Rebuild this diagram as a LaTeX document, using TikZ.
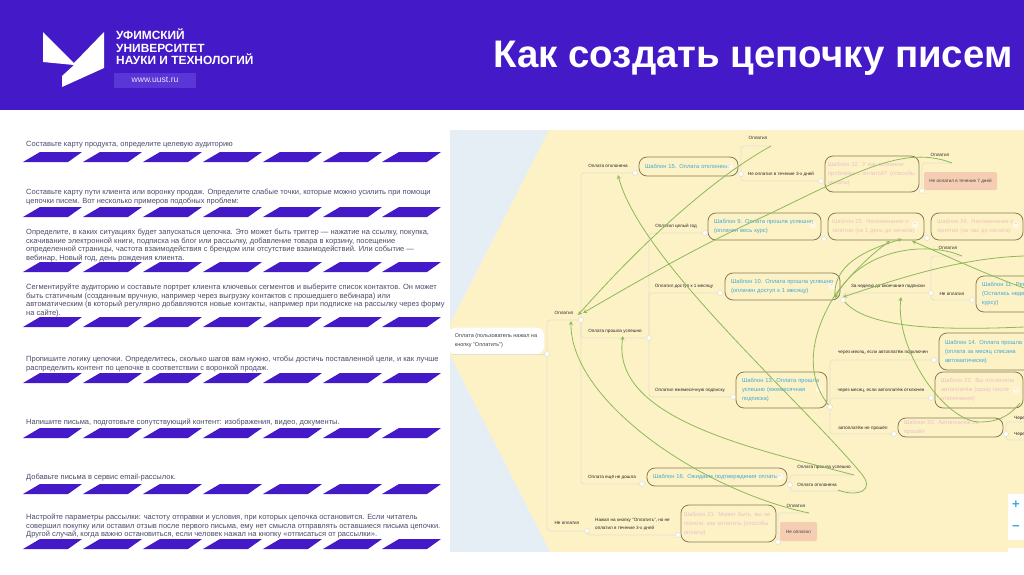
\documentclass[tikz,border=0pt]{standalone}
\usepackage{fontspec}
\setmainfont{Liberation Sans}
\usetikzlibrary{arrows, positioning}
\definecolor{headviolet}{HTML}{4319C8}
\definecolor{urlviolet}{HTML}{5A36D6}
\definecolor{paneyellow}{HTML}{FDF1C6}
\definecolor{paneblue}{HTML}{E6EEF5}
\definecolor{bodygrey}{HTML}{4A4A68}
\definecolor{linktan}{HTML}{E4E0CC}
\definecolor{boxolive}{HTML}{857A52}
\definecolor{tmplblue}{HTML}{3FAAD6}
\definecolor{tmplpink}{HTML}{EDBFCB}
\definecolor{tmplrose}{HTML}{ECC5B8}
\definecolor{leafsalmon}{HTML}{F5CDB2}
\definecolor{flowgreen}{HTML}{8CB958}
\tikzstyle{bodytext} = [anchor=north west, inner sep=0pt, align=left, text=bodygrey, font=\fontsize{7.5}{8.45}\selectfont]
\tikzstyle{stripe} = [fill=headviolet]
\tikzstyle{tmpl} = [rectangle, rounded corners=8pt, draw=boxolive, line width=0.8pt, inner xsep=6pt, inner ysep=0pt, align=left, font=\fontsize{5.8}{9}\selectfont]
\tikzstyle{tmplb} = [tmpl, text=tmplblue]
\tikzstyle{tmplp} = [tmpl, text=tmplpink]
\tikzstyle{tmplr} = [tmpl, text=tmplrose]
\tikzstyle{leaf} = [rectangle, rounded corners=2pt, fill=leafsalmon, text=black!75, inner sep=0pt, font=\fontsize{4.6}{6}\selectfont]
\tikzstyle{lbl} = [inner sep=0pt, text=black!85, align=left, font=\fontsize{4.6}{8}\selectfont]
\tikzstyle{knob} = [circle, draw=linktan, fill=white, line width=0.6pt, minimum size=5pt, inner sep=0pt]
\tikzstyle{fold} = [circle, fill=white, fill opacity=0.55, text opacity=1, text=black!45, minimum size=7pt, inner sep=0pt, font=\fontsize{5}{5}\selectfont]
\tikzstyle{link} = [draw=linktan, line width=0.7pt, rounded corners=3pt]
\tikzstyle{flow} = [draw=flowgreen, line width=0.8pt]
\tikzstyle{arrow} = [flow, ->, >=stealth]
\begin{document}
\begin{tikzpicture}[x=1pt, y=-1pt]
\useasboundingbox (0,0) rectangle (1024,574);

% Header
\fill [headviolet] (0,0) rectangle (1024,110);
\fill [white] (43,32) -- (74,63) -- (104,32) -- (104,68) -- (62,87) -- (62,76) -- (74,65) -- (43,62) -- cycle;
\node (uni) [anchor=north west, inner sep=0pt, align=left, text=white, font=\fontsize{11.9}{12.5}\selectfont\bfseries] at (116,29) {УФИМСКИЙ\\УНИВЕРСИТЕТ\\НАУКИ И ТЕХНОЛОГИЙ};
\node (url) [fill=urlviolet, text=white!85!urlviolet, minimum width=82pt, minimum height=15pt, inner sep=0pt, font=\fontsize{8.6}{10}\selectfont] at (155,80) {www.uust.ru};
\node (title) [text=white, inner sep=0pt, font=\fontsize{38.4}{42}\selectfont\bfseries] at (753,58) {Как создать цепочку писем};

% Steps
\node (text1) [bodytext] at (26,141) {Составьте карту продукта, определите целевую аудиторию};
\node (text2) [bodytext] at (26,189) {Составьте карту пути клиента или воронку продаж. Определите слабые точки, которые можно усилить при помощи\\цепочки писем. Вот несколько примеров подобных проблем:};
\node (text3) [bodytext] at (26,229) {Определите, в каких ситуациях будет запускаться цепочка. Это может быть триггер — нажатие на ссылку, покупка,\\скачивание электронной книги, подписка на блог или рассылку, добавление товара в корзину, посещение\\определенной страницы, частота взаимодействия с брендом или отсутствие взаимодействий. Или событие —\\вебинар, Новый год, день рождения клиента.};
\node (text4) [bodytext] at (26,284) {Сегментируйте аудиторию и составьте портрет клиента ключевых сегментов и выберите список контактов. Он может\\быть статичным (созданным вручную, например через выгрузку контактов с прошедшего вебинара) или\\автоматическим (в который регулярно добавляются новые контакты, например при подписке на рассылку через форму\\на сайте).};
\node (text5) [bodytext] at (26,356) {Пропишите логику цепочки. Определитесь, сколько шагов вам нужно, чтобы достичь поставленной цели, и как лучше\\распределить контент по цепочке в соответствии с воронкой продаж.};
\node (text6) [bodytext] at (26,419) {Напишите письма, подготовьте сопутствующий контент: изображения, видео, документы.};
\node (text7) [bodytext] at (26,474) {Добавьте письма в сервис email-рассылок.};
\node (text8) [bodytext] at (26,514) {Настройте параметры рассылки: частоту отправки и условия, при которых цепочка остановится. Если читатель\\совершил покупку или оставил отзыв после первого письма, ему нет смысла отправлять оставшиеся письма цепочки.\\Другой случай, когда важно остановиться, если человек нажал на кнопку «отписаться от рассылки».};
\foreach \y in {152,207,262,317,373,428,484,539} {
  \foreach \x in {23,83,143,203,263,323,382} {
    \fill [stripe] (\x,\y+10) -- (\x+17,\y) -- (\x+59,\y) -- (\x+45,\y+10) -- cycle;
  }
}

% Panel
\fill [paneyellow] (450,130) rectangle (1024,552);
\fill [paneblue] (450,130) -- (549,130) -- (450,324) -- cycle;
\fill [paneblue] (450,355) -- (550,552) -- (450,552) -- cycle;

% Root
\node (root) [fill=white, rounded corners=8pt, minimum width=96pt, minimum height=27pt, inner sep=0pt, text=black!75, align=left, font=\fontsize{5.5}{9}\selectfont] at (496,341) {Оплата (пользователь нажал на\\кнопку "Оплатить")};

% Templates
\node (t15) [tmplb, text width=87pt, minimum height=19pt] at (688.5,166.5) {Шаблон 15. Оплата отклонена};
\node (t32) [tmplp, inner xsep=3pt, text width=88pt, minimum height=36pt] at (872,174) {Шаблон 32. У вас возникли\\проблемы с оплатой? (способы\\оплаты)};
\node (t9) [tmplb, text width=101pt, minimum height=27pt] at (764.5,226.5) {Шаблон 9. Оплата прошла успешно\\(оплачен весь курс)};
\node (t23) [tmplr, inner xsep=4pt, text width=88pt, minimum height=27pt] at (876,226.5) {Шаблон 23. Напоминание о\\занятии (за 1 день до начала)};
\node (t24) [tmplr, text width=80pt, minimum height=27pt] at (977,226.5) {Шаблон 24. Напоминание о\\занятии (за час до начала)};
\node (t10) [tmplb, text width=103pt, minimum height=27pt] at (782.5,286.5) {Шаблон 10. Оплата прошла успешно\\(оплачен доступ к 1 месяцу)};
\node (t11) [tmplb, text width=76pt, minimum height=36pt] at (1020,294) {Шаблон 11. Рег\\(Осталась неде\\курсу)};
\node (t14) [tmplb, text width=118pt, minimum height=37pt] at (1004,351.5) {Шаблон 14. Оплата прошла ус\\(оплата за месяц списана\\автоматически)};
\node (t22) [tmplp, text width=76pt, minimum height=36pt] at (979,390) {Шаблон 22. Вы отключили\\автоплатёж (сразу после\\отключения)};
\node (t13) [tmplb, text width=79pt, minimum height=36pt] at (781.5,390) {Шаблон 13. Оплата прошла\\успешно (ежемесячная\\подписка)};
\node (t30) [tmplp, text width=93pt, minimum height=19pt] at (950.5,427.5) {Шаблон 30. Автоплатёж не прошёл};
\node (t16) [tmplb, text width=128pt, minimum height=18pt] at (717,477) {Шаблон 16. Ожидаем подтверждения оплаты};
\node (t21) [tmplp, inner xsep=3pt, text width=89pt, minimum height=37pt] at (728.5,523.5) {Шаблон 21. Может быть, вы не\\поняли, как оплатить (способы\\оплаты)};

% Fold marks
\foreach \name/\pos in {f15/{730,166}, f9/{813,225}, f23/{915,225}, f24/{1016,225}, f10/{832,286}, f13/{819,389}, f22/{1016,390}, f16/{780,477}}
  \node (\name) [fold] at (\pos) {-};

% Salmon leaves
\node (s7) [leaf, minimum width=73pt, minimum height=18pt] at (960.5,181) {Не оплатил в течение 7 дней};
\node (sno) [leaf, minimum width=37pt, minimum height=19pt] at (798.5,531.5) {Не оплатил};

% Labels
\node (lpaid) [lbl] at (564,313) {Оплатил};
\node (lrej) [lbl] at (608,166) {Оплата отклонена};
\node (lyear) [lbl] at (676,226) {Оплатил целый год};
\node (lmonth) [lbl] at (684,286) {Оплатил доступ к 1 месяцу};
\node (lok) [lbl] at (615,331) {Оплата прошла успешно};
\node (lsub) [lbl] at (690,390) {Оплатил ежемесячную подписку};
\node (lwait) [lbl] at (612,477) {Оплата ещё не дошла};
\node (lnot) [lbl] at (567,523) {Не оплатил};
\node (lclick) [lbl, anchor=west] at (595,524) {Нажал на кнопку "Оплатить", но не\\оплатил в течение 3-х дней};
\node (lpaid2) [lbl] at (758,138) {Оплатил};
\node (lthree) [lbl] at (781,174) {Не оплатил в течение 3-х дней};
\node (lpaid3) [lbl] at (940,155) {Оплатил};
\node (lweek) [lbl] at (888,286) {За неделю до окончания подписки};
\node (lnot2) [lbl] at (952,294) {Не оплатил};
\node (lpaid4) [lbl] at (948,248) {Оплатил};
\node (lauto) [lbl] at (883,352) {через месяц, если автоплатёж подключен};
\node (loff) [lbl] at (881,390) {через месяц, если автоплатёж отключен};
\node (lfail) [lbl] at (863,428) {автоплатёж не прошёл};
\node (lok2) [lbl] at (824,467) {Оплата прошла успешно};
\node (lrej2) [lbl] at (817,485) {Оплата отклонена};
\node (lpaid5) [lbl] at (796,506) {Оплатил};
\node (lmon1) [lbl, anchor=west] at (1014,418) {Чере};
\node (lmon2) [lbl, anchor=west] at (1014,434) {Чере};

% Knobs
\node (kroot) [knob] at (547,354) {};
\node (kpaid) [knob] at (581,320) {};
\node (knot) [knob] at (587,531) {};
\node (kclick) [knob] at (678,535) {};
\node (krej) [knob] at (635,173) {};
\node (kwait) [knob] at (642,484) {};
\node (kok) [knob] at (649,338) {};
\node (kyear) [knob] at (705,233) {};
\node (kmonth) [knob] at (720,293) {};
\node (ksub) [knob] at (733,397) {};
\node (kt15) [knob] at (741,174) {};
\node (kthree) [knob] at (821,181) {};
\node (kt32) [knob] at (922,191) {};
\node (kt9) [knob] at (824,239) {};
\node (kt23) [knob] at (927,238) {};
\node (kt10) [knob] at (843,300) {};
\node (kweek) [knob] at (931,293) {};
\node (knot2) [knob] at (972,300) {};
\node (kt13) [knob] at (830,407) {};
\node (kauto) [knob] at (934,360) {};
\node (koff) [knob] at (931,398) {};
\node (kfail) [knob] at (894,434) {};
\node (kt30) [knob] at (1006,434) {};
\node (kt16) [knob] at (790,485) {};
\node (kt21) [knob] at (778,542) {};

% Free ends
\coordinate (epaid2) at (771,146);
\coordinate (epaid3) at (952,163);
\coordinate (epaid4) at (962,256);
\coordinate (eok2) at (854,475);
\coordinate (erej2) at (864,491);
\coordinate (epaid5) at (809,513);
\coordinate (emon1) at (1024,422);
\coordinate (emon2) at (1024,440);
\coordinate (rootbottom) at (452,354);

% Tree
\draw [link] (rootbottom) -- (kroot);
\draw [link] (kroot) |- (kpaid);
\draw [link] (kroot) |- (knot);
\draw [link] (kclick) -| (knot);
\draw [link] (kpaid) |- (krej);
\draw [link] (kpaid) |- (kwait);
\draw [link] (kpaid) |- (kok);
\draw [link] (kok) |- (kyear);
\draw [link] (kok) |- (kmonth);
\draw [link] (kok) |- (ksub);
\draw [link] (kt15) |- (epaid2);
\draw [link] (kthree) -| (kt15);
\draw [link] (kt32) |- (epaid3);
\draw [link] (kweek) -| (kt10);
\draw [link] (kweek) |- (epaid4);
\draw [link] (knot2) -| (kweek);
\draw [link] (kt13) |- (kauto);
\draw [link] (kt13) |- (koff);
\draw [link] (kt13) |- (kfail);
\draw [link] (kt30) |- (emon1);
\draw [link] (kt30) |- (emon2);
\draw [link] (kt16) |- (eok2);
\draw [link] (kt16) |- (erej2);
\draw [link] (kt21) |- (epaid5);

% Flows
\coordinate (tpaida) at (578,315);
\coordinate (tpaidb) at (583,313);
\coordinate (trej) at (618,175);
\coordinate (tok) at (623,336);
\coordinate (tpaidc) at (571,321);
\coordinate (tt22) at (1020,403);
\coordinate (tt23a) at (890,241);
\coordinate (tt23b) at (902,239);
\coordinate (tt23c) at (912,241);
\coordinate (tweek) at (901,297);
\coordinate (tt10a) at (835,298);
\coordinate (tt10b) at (843,297);
\coordinate (ethirty) at (1024,256);
\coordinate (eforty) at (1024,288);
\coordinate (efifty) at (1024,327);
\coordinate (srej) at (838,490);
\draw [arrow] (epaid2) .. controls (710,180) and (640,245) .. (tpaida);
\draw [arrow] (epaid3) .. controls (905,145) and (860,170) .. (767,215) .. controls (700,245) and (640,280) .. (tpaidb);
\draw [arrow] (srej) .. controls (855,497) and (878,492) .. (860,472) .. controls (800,400) and (640,260) .. (trej);
\draw [arrow] (eok2) .. controls (760,450) and (610,420) .. (tok);
\draw [arrow] (epaid5) .. controls (700,490) and (570,400) .. (tpaidc);
\draw [arrow] (kt13) .. controls (805,375) and (810,335) .. (835,295) .. controls (850,275) and (870,255) .. (tt23a);
\draw [arrow] (tt22) .. controls (1008,418) and (995,422) .. (980,422) .. controls (945,422) and (895,350) .. (tweek);
\draw [arrow] (epaid4) .. controls (925,240) and (860,250) .. (tt10a);
\draw [arrow] (ethirty) .. controls (960,258) and (900,278) .. (tt10b);
\draw [arrow] (eforty) .. controls (980,272) and (945,255) .. (tt23c);
\draw [flow] (efifty) .. controls (950,330) and (870,330) .. (kt10);
\draw [arrow] (tt10a) .. controls (832,265) and (865,250) .. (tt23b);

% Zoom buttons
\node (zoombox) [fill=white, minimum width=16pt, minimum height=46pt, inner sep=0pt] at (1016,517) {};
\node (zoomplus) [text=tmplblue, inner sep=0pt, font=\fontsize{13}{13}\selectfont\bfseries] at (1016,505) {+};
\node (zoomminus) [text=tmplblue, inner sep=0pt, font=\fontsize{13}{13}\selectfont\bfseries] at (1016,528) {−};
\node (layerbox) [fill=white, minimum width=16pt, minimum height=4pt, inner sep=0pt] at (1016,550) {};
\end{tikzpicture}
\end{document}
